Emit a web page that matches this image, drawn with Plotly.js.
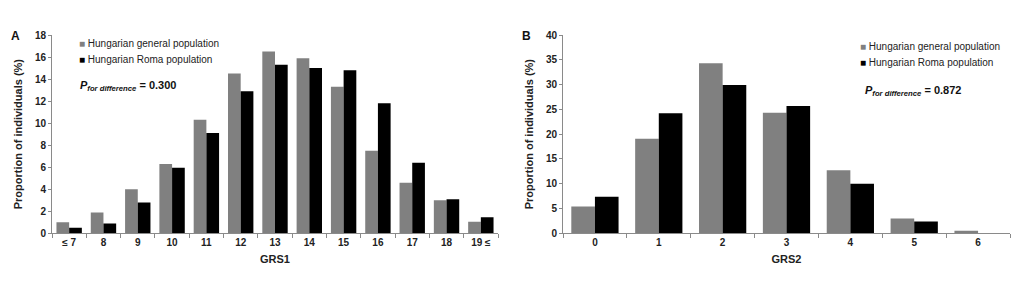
<!DOCTYPE html>
<html>
<head>
<meta charset="utf-8">
<script src="https://cdn.plot.ly/plotly-3.0.1.min.js"></script>
<style>html,body{margin:0;padding:0;background:#fff;}#chart{width:1024px;height:292px;}</style>
</head>
<body>
<div id="chart"></div>
<script>
var seriesNames = ["Hungarian general population", "Hungarian Roma population"];
var grs1Categories = ["≤ 7", "8", "9", "10", "11", "12", "13", "14", "15", "16", "17", "18", "19 ≤"];
var grs1General = [1.0, 1.9, 4.0, 6.3, 10.3, 14.5, 16.5, 15.9, 13.3, 7.5, 4.6, 3.0, 1.05];
var grs1Roma = [0.5, 0.9, 2.8, 5.95, 9.1, 12.9, 15.3, 15.0, 14.8, 11.8, 6.4, 3.1, 1.45];
var grs2Categories = ["0", "1", "2", "3", "4", "5", "6"];
var grs2General = [5.4, 19.1, 34.3, 24.3, 12.7, 3.0, 0.5];
var grs2Roma = [7.4, 24.2, 29.9, 25.7, 10.0, 2.4, 0];
var pValues = ["0.300", "0.872"];
var yTicks1 = [0, 2, 4, 6, 8, 10, 12, 14, 16, 18];
var yTicks2 = [0, 5, 10, 15, 20, 25, 30, 35, 40];

var gray = "#808080", black = "#000000";
var FONT = "Liberation Sans, Arial, sans-serif";

function bar(x, y, color, name, xa, ya) {
  return {type: "bar", x: x, y: y, name: name, xaxis: xa, yaxis: ya,
    marker: {color: color, line: {width: 0}}, showlegend: false, hoverinfo: "x+y"};
}
var data = [
  bar(grs1Categories, grs1General, gray, seriesNames[0], "x", "y"),
  bar(grs1Categories, grs1Roma, black, seriesNames[1], "x", "y"),
  bar(grs2Categories, grs2General, gray, seriesNames[0], "x2", "y2"),
  bar(grs2Categories, grs2Roma, black, seriesNames[1], "x2", "y2")
];

function xaxis(domain, title, anchor) {
  return {domain: domain, anchor: anchor, type: "category", tickson: "boundaries",
    ticks: "outside", ticklen: 4, tickcolor: "#8a8a8a", showline: true, linecolor: "#8a8a8a",
    linewidth: 1, showgrid: false, zeroline: false, fixedrange: true,
    tickfont: {family: FONT, size: 10, color: "#222", weight: "bold"},
    title: {text: title, standoff: 7, font: {family: FONT, size: 11, color: "#222", weight: "bold"}}};
}
function yaxis(range, ticks, anchor) {
  return {domain: [0.201, 0.880], anchor: anchor, range: range, tickvals: ticks,
    ticks: "outside", ticklen: 3, tickcolor: "#8a8a8a", showline: true, linecolor: "#8a8a8a",
    linewidth: 1, showgrid: false, zeroline: false, fixedrange: true,
    tickfont: {family: FONT, size: 10, color: "#222", weight: "bold"},
    title: {text: "Proportion of individuals (%)", standoff: 10,
      font: {family: FONT, size: 11, color: "#222", weight: "bold"}}};
}

function legendAnn(x, y, color, name) {
  return {xref: "paper", yref: "paper", x: x / 1024, y: 1 - y / 292, xanchor: "left", yanchor: "middle",
    showarrow: false, align: "left",
    text: '<span style="color:' + color + '">■</span> ' + name,
    font: {family: FONT, size: 10, color: "#222"}};
}
function pAnn(x, y, p) {
  return {xref: "paper", yref: "paper", x: x / 1024, y: 1 - y / 292, xanchor: "left", yanchor: "middle",
    showarrow: false,
    text: "<b><i>P</i></b><sub><b><i>for difference</i></b></sub><b> = " + p + "</b>",
    font: {family: FONT, size: 11, color: "#111"}};
}
function letter(x, y, t) {
  return {xref: "paper", yref: "paper", x: x / 1024, y: 1 - y / 292, xanchor: "left", yanchor: "middle",
    showarrow: false, text: "<b>" + t + "</b>", font: {family: FONT, size: 12, color: "#111"}};
}

var layout = {
  width: 1024, height: 292, margin: {l: 0, r: 0, t: 0, b: 0},
  paper_bgcolor: "#fff", plot_bgcolor: "#fff",
  barmode: "group", bargap: 0.26, bargroupgap: 0,
  xaxis: xaxis([52 / 1024, 498 / 1024], "GRS1", "y"),
  yaxis: yaxis([0, 18], yTicks1, "x"),
  xaxis2: xaxis([563 / 1024, 1010 / 1024], "GRS2", "y2"),
  yaxis2: yaxis([0, 40], yTicks2, "x2"),
  annotations: [
    letter(9, 36, "A"), letter(520, 36, "B"),
    legendAnn(77, 43, gray, seriesNames[0]), legendAnn(77, 59, black, seriesNames[1]),
    legendAnn(858, 47, gray, seriesNames[0]), legendAnn(858, 63, black, seriesNames[1]),
    pAnn(78, 86, pValues[0]), pAnn(863, 91, pValues[1])
  ]
};

Plotly.newPlot("chart", data, layout, {displayModeBar: false, staticPlot: true});
</script>
</body>
</html>
